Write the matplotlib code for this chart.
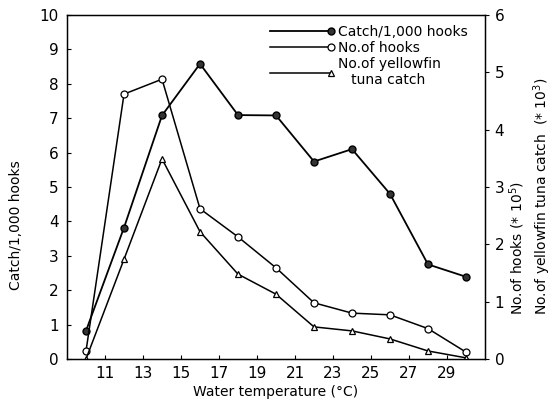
import matplotlib
matplotlib.use("Agg")
import matplotlib.pyplot as plt
from matplotlib.legend_handler import HandlerLine2D

# water temperature (deg C)
temp = [10, 12, 14, 16, 18, 20, 22, 24, 26, 28, 30]
# catch per 1,000 hooks (left axis)
catch_rate = [0.82, 3.82, 7.08, 8.58, 7.09, 7.08, 5.74, 6.1, 4.8, 2.75, 2.39]
# no. of hooks (x 10^5, right axis)
hooks = [0.14, 4.62, 4.88, 2.62, 2.13, 1.59, 0.98, 0.80, 0.77, 0.53, 0.12]
# no. of yellowfin tuna catch (x 10^3, right axis)
yft = [0.0, 1.74, 3.49, 2.22, 1.48, 1.13, 0.56, 0.49, 0.35, 0.14, 0.02]

xticks = [11, 13, 15, 17, 19, 21, 23, 25, 27, 29]

plt.rcParams['font.family'] = ['DejaVu Sans']


class EndMarker(HandlerLine2D):
    # legend line with the marker only at the right end
    def create_artists(self, *args, **kw):
        arts = super().create_artists(*args, **kw)
        for a in arts:
            a.set_markevery([1])
        return arts


fig = plt.figure(figsize=(5.59, 4.05), dpi=100)
ax = fig.add_axes([0.1199, 0.1136, 0.7477, 0.8494])
ax2 = ax.twinx()

l1, = ax.plot(temp, catch_rate, color='black', lw=1.3, marker='o', ms=5,
              mfc='#333333', mec='black', mew=1, label='Catch/1,000 hooks')
l2, = ax2.plot(temp, hooks, color='black', lw=1.1, marker='o', ms=5,
               mfc='white', mec='black', mew=0.9, label='No.of hooks')
l3, = ax2.plot(temp, yft, color='black', lw=1.1, marker='^', ms=5,
               mfc='white', mec='black', mew=0.9,
               label='No.of yellowfin\n   tuna catch')

ax.set_xlim(9, 31)
ax.set_ylim(0, 10)
ax2.set_ylim(0, 6)
ax.set_xticks(xticks)
ax.set_yticks(range(0, 11))
ax2.set_yticks(range(0, 7))

ax.tick_params(axis='both', direction='in', length=3, labelsize=11, pad=6)
ax.tick_params(axis='x', pad=5)
ax2.tick_params(axis='y', direction='out', length=3, labelsize=11, pad=4)

ax.set_xlabel('Water temperature (°C)', fontsize=10, labelpad=3)
fig.text(16 / 559, 1 - 225 / 405, 'Catch/1,000 hooks', rotation=90,
         ha='center', va='center', fontsize=10)
fig.text(530 / 559, 1 - 315 / 405,
         'No.of hooks (* 10$^5$)\nNo.of yellowfin tuna catch  (* 10$^3$)',
         rotation=90, ha='center', va='bottom', multialignment='left',
         fontsize=10, linespacing=1.25)

leg = ax.legend([l1, l2, l3], [l1.get_label(), l2.get_label(), l3.get_label()],
                loc='upper right', bbox_to_anchor=(0.981, 1.0),
                frameon=False, fontsize=10,
                numpoints=2, handlelength=5.0, handletextpad=0.2,
                labelspacing=0.15, borderaxespad=0.3,
                handler_map={l1: EndMarker(), l2: EndMarker(), l3: EndMarker()})

for s in ax.spines.values():
    s.set_linewidth(1.0)

fig.savefig('out.png', dpi=100)
